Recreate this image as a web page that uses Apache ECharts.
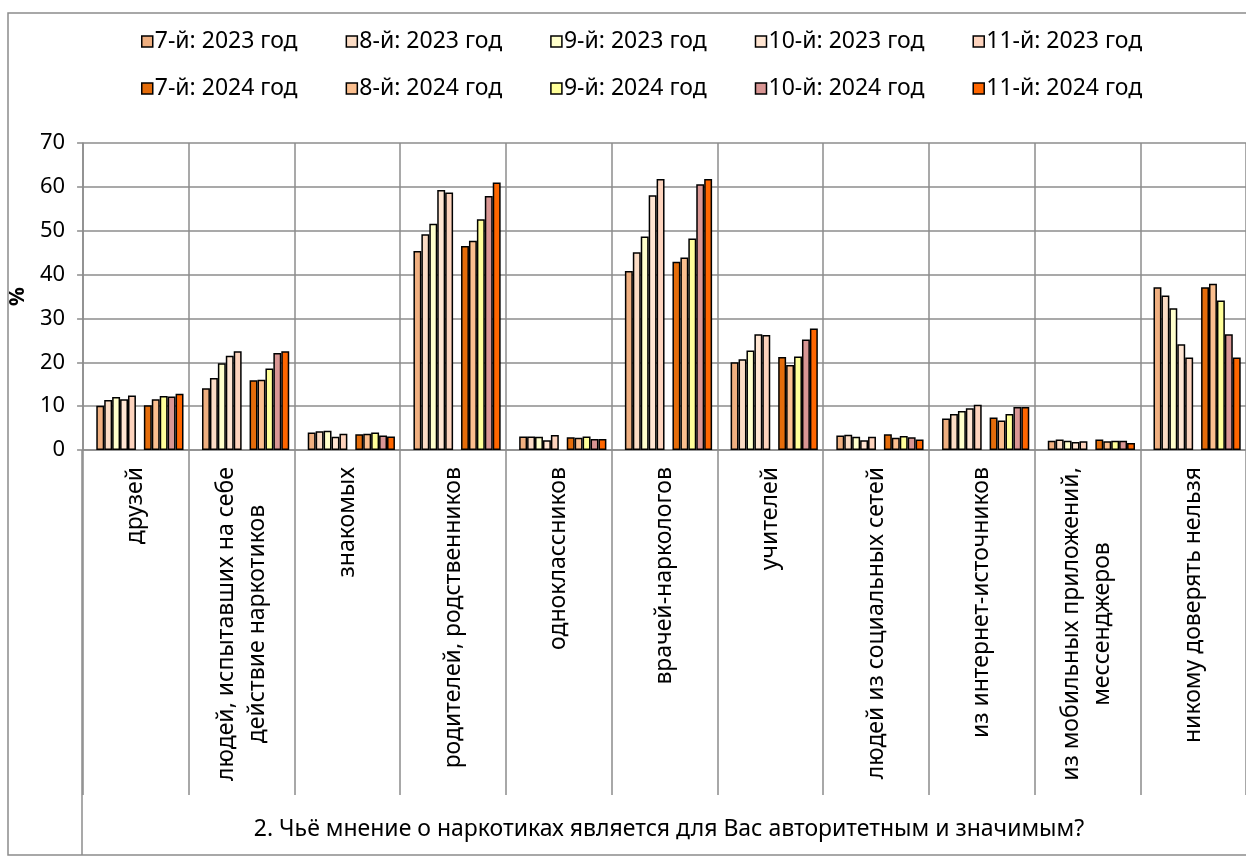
<!DOCTYPE html>
<html><head><meta charset="utf-8">
<script src="https://cdn.jsdelivr.net/npm/echarts@6/dist/echarts.min.js"></script>
<style>html,body{margin:0;padding:0;background:#fff}#c{width:1246px;height:865px}</style>
</head><body><div id="c"></div>
<script>
const categories = [
  'друзей',
  'людей, испытавших на себе\nдействие наркотиков',
  'знакомых',
  'родителей, родственников',
  'одноклассников',
  'врачей-наркологов',
  'учителей',
  'людей из социальных сетей',
  'из интернет-источников',
  'из мобильных приложений,\nмессенджеров',
  'никому доверять нельзя'
];
const names2023 = ['7-й: 2023 год','8-й: 2023 год','9-й: 2023 год','10-й: 2023 год','11-й: 2023 год'];
const names2024 = ['7-й: 2024 год','8-й: 2024 год','9-й: 2024 год','10-й: 2024 год','11-й: 2024 год'];
const g7_2023  = [10.1, 14.1, 4.0, 45.4, 3.1, 40.8, 20.0, 3.3, 7.2, 2.1, 37.1];
const g8_2023  = [11.4, 16.4, 4.3, 49.2, 3.1, 45.1, 20.7, 3.5, 8.2, 2.4, 35.2];
const g9_2023  = [12.1, 19.8, 4.4, 51.6, 3.0, 48.7, 22.7, 3.0, 8.9, 2.1, 32.3];
const g10_2023 = [11.6, 21.5, 3.0, 59.3, 2.2, 58.1, 26.4, 2.2, 9.5, 1.8, 24.1];
const g11_2023 = [12.4, 22.5, 3.7, 58.7, 3.4, 61.8, 26.2, 3.0, 10.3, 2.0, 21.1];
const g7_2024  = [10.2, 15.9, 3.6, 46.5, 2.9, 42.9, 21.2, 3.6, 7.4, 2.4, 37.1];
const g8_2024  = [11.6, 16.0, 3.7, 47.7, 2.8, 43.9, 19.4, 2.8, 6.7, 2.0, 37.9];
const g9_2024  = [12.3, 18.6, 4.0, 52.6, 3.1, 48.2, 21.3, 3.2, 8.2, 2.1, 34.1];
const g10_2024 = [12.2, 22.1, 3.3, 57.9, 2.5, 60.6, 25.2, 2.9, 9.8, 2.1, 26.4];
const g11_2024 = [12.8, 22.5, 3.1, 61.0, 2.5, 61.8, 27.7, 2.4, 9.8, 1.6, 21.1];
const yTicks = [0, 10, 20, 30, 40, 50, 60, 70];
const axisTitle = '2. Чьё мнение о наркотиках является для Вас авторитетным и значимым?';
const yName = '%';

const colors2023 = ['#EFAF80', '#FBDCC5', '#FFFFCC', '#FFE5D2', '#FDD3BD'];
const colors2024 = ['#E46C0A', '#FBBF8F', '#FFFF99', '#D99694', '#FF6600'];
const data2023 = [g7_2023, g8_2023, g9_2023, g10_2023, g11_2023];
const data2024 = [g7_2024, g8_2024, g9_2024, g10_2024, g11_2024];

const FONT = '"Noto Sans", sans-serif';
const FS = 23;
const grey = '#8c8c8c';

function draw() {
  const ctx = document.createElement('canvas').getContext('2d');
  ctx.font = FS + 'px "Noto Sans"';
  const rich = {};
  categories.forEach((c, i) => {
    const w = Math.max(...c.split('\n').map(l => ctx.measureText(l).width));
    rich['c' + i] = { width: Math.ceil(w), align: 'center', fontSize: FS, fontFamily: FONT, color: '#000', lineHeight: 31 };
  });

  const barBase = { type: 'bar', barGap: '0%', barCategoryGap: '10%' };
  const blank = () => Object.assign({}, barBase, { name: '', data: categories.map(() => null), silent: true });
  const series = [blank()];
  names2023.forEach((n, i) => series.push(Object.assign({}, barBase, { name: n, data: data2023[i],
    itemStyle: { color: colors2023[i], borderColor: '#000', borderWidth: 1.5 } })));
  series.push(blank());
  names2024.forEach((n, i) => series.push(Object.assign({}, barBase, { name: n, data: data2024[i],
    itemStyle: { color: colors2024[i], borderColor: '#000', borderWidth: 1.5 } })));

  const legendCommon = {
    orient: 'horizontal', icon: 'rect', itemWidth: 11, itemHeight: 11,
    selectedMode: false,
    itemStyle: { borderColor: '#000', borderWidth: 1.5 },
    textStyle: { fontFamily: FONT, fontSize: FS, color: '#000', padding: [0, 0, 0, -3] }
  };

  const chart = echarts.init(document.getElementById('c'), null, { renderer: 'canvas' });
  chart.setOption({
    animation: false,
    backgroundColor: '#fff',
    legend: [
      Object.assign({}, legendCommon, { data: names2023, left: 136, top: 25, itemGap: 48 }),
      Object.assign({}, legendCommon, { data: names2024, left: 136, top: 72, itemGap: 48 })
    ],
    title: {
      text: axisTitle, left: 664, top: 813, textAlign: 'center',
      textStyle: { fontFamily: FONT, fontSize: FS, fontWeight: 'normal', color: '#000' }
    },
    grid: { left: 82, right: -10, top: 143, bottom: 415 },
    xAxis: {
      type: 'category', data: categories,
      axisLine: { show: true, lineStyle: { color: grey, width: 1.5 } },
      axisTick: { show: true, interval: 0, length: 345, lineStyle: { color: grey, width: 1.5 } },
      splitLine: { show: true, interval: 0, lineStyle: { color: grey, width: 1.5 } },
      axisLabel: {
        interval: 0, rotate: 90, margin: 17,
        fontFamily: FONT, fontSize: FS, color: '#000', lineHeight: 31,
        formatter: (v, i) => v.indexOf('\n') < 0 ? v :
          v.split('\n').map(l => '{c' + i + '|' + l + '}').join('\n'),
        rich: rich
      }
    },
    yAxis: {
      type: 'value', min: yTicks[0], max: yTicks[yTicks.length - 1], interval: 10,
      name: yName, nameLocation: 'middle', nameGap: 43, nameRotate: 90,
      nameTextStyle: { fontFamily: FONT, fontSize: 21, fontWeight: 'bold', color: '#000' },
      axisLine: { show: true, lineStyle: { color: grey, width: 1.5 } },
      axisTick: { show: true, length: 6, lineStyle: { color: grey, width: 1.5 } },
      splitLine: { show: true, lineStyle: { color: grey, width: 1.5 } },
      axisLabel: { margin: 18, fontFamily: FONT, fontSize: 22, color: '#000' }
    },
    graphic: [
      { type: 'rect', silent: true, shape: { x: 8, y: 13, width: 1300, height: 842 },
        style: { fill: null, stroke: grey, lineWidth: 1.5 } },
      { type: 'line', silent: true, shape: { x1: 82, y1: 450, x2: 82, y2: 855 },
        style: { stroke: grey, lineWidth: 1.5 } }
    ],
    series: series
  });
}

if (document.fonts && document.fonts.load) {
  document.fonts.load(FS + 'px "Noto Sans"').then(draw, draw);
} else {
  draw();
}
</script>
</body></html>
